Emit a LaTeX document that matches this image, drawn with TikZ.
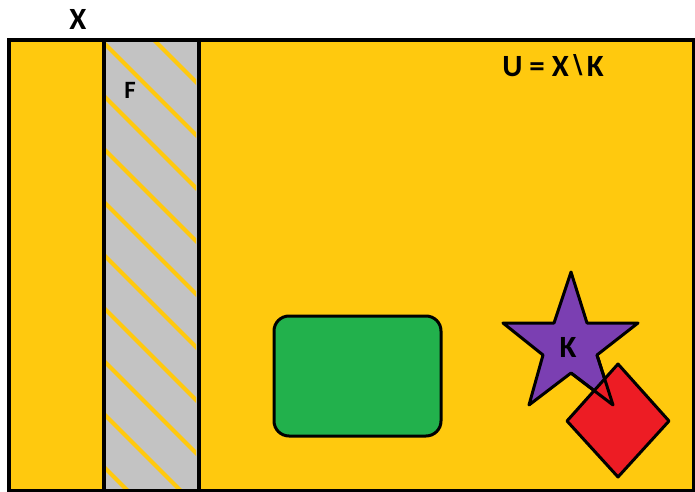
\documentclass[tikz,border=0pt]{standalone}
\usepackage{fontspec}
\setmainfont{Carlito}
\newfontfamily\dejavu{DejaVu Sans}
\definecolor{paintyellow}{HTML}{FFC90E}
\definecolor{paintgray}{HTML}{C3C3C3}
\definecolor{paintgreen}{HTML}{22B14C}
\definecolor{paintred}{HTML}{ED1C24}
\definecolor{paintpurple}{HTML}{7B3FB2}
\tikzset{
  border/.style={draw=black, line width=4bp},
  shapeline/.style={draw=black, line width=3bp, line join=round},
  hatch/.style={draw=paintyellow, line width=4bp, line cap=round},
  lbl/.style={font=\bfseries\fontsize{31}{31}\selectfont, inner sep=0pt, text=black},
}
\begin{document}
\begin{tikzpicture}[x=1bp,y=-1bp]
\useasboundingbox (0,0) rectangle (695,492);
\clip (0,0) rectangle (695,492);
% universe
\fill[paintyellow] (9,40) rectangle (694,491);
% strip F
\fill[paintgray] (104,40) rectangle (199,491);
\begin{scope}
  \clip (106,42) rectangle (196,489);
  \foreach \c in {-114,-61,-8,45,98,151,204,257,310,363,416,469}{
    \draw[hatch] (100,100+\c) -- (200,200+\c);
  }
\end{scope}
\draw[border] (104,40) -- (104,491);
\draw[border] (199,40) -- (199,491);
\draw[border] (9,40) rectangle (694,491);
% green set
\draw[shapeline, fill=paintgreen, rounded corners=15bp] (274,316) rectangle (441,436);
% star K
\path[shapeline, fill=paintpurple]
  (571,272) -- (587,323) -- (638,323) -- (597,355) -- (613,405) -- (571,373)
  -- (529,405) -- (543,355) -- (503,323) -- (554,323) -- cycle;
% red diamond
\draw[shapeline, fill=paintred] (618,364) -- (669,421) -- (618,477) -- (567,421) -- cycle;
\draw[shapeline] (597,355) -- (613,405) -- (571,373);
% labels
\node[lbl] (X) at (78,19) {X};
\node[lbl, font=\bfseries\fontsize{25}{25}\selectfont] (F) at (130,90) {F};
\node[lbl] (U) at (553,66) {U = X{\dejavu\bfseries\fontsize{26}{26}\selectfont\raisebox{2bp}{∖}}K};
\node[lbl] (K) at (568,347) {K};
\end{tikzpicture}
\end{document}
